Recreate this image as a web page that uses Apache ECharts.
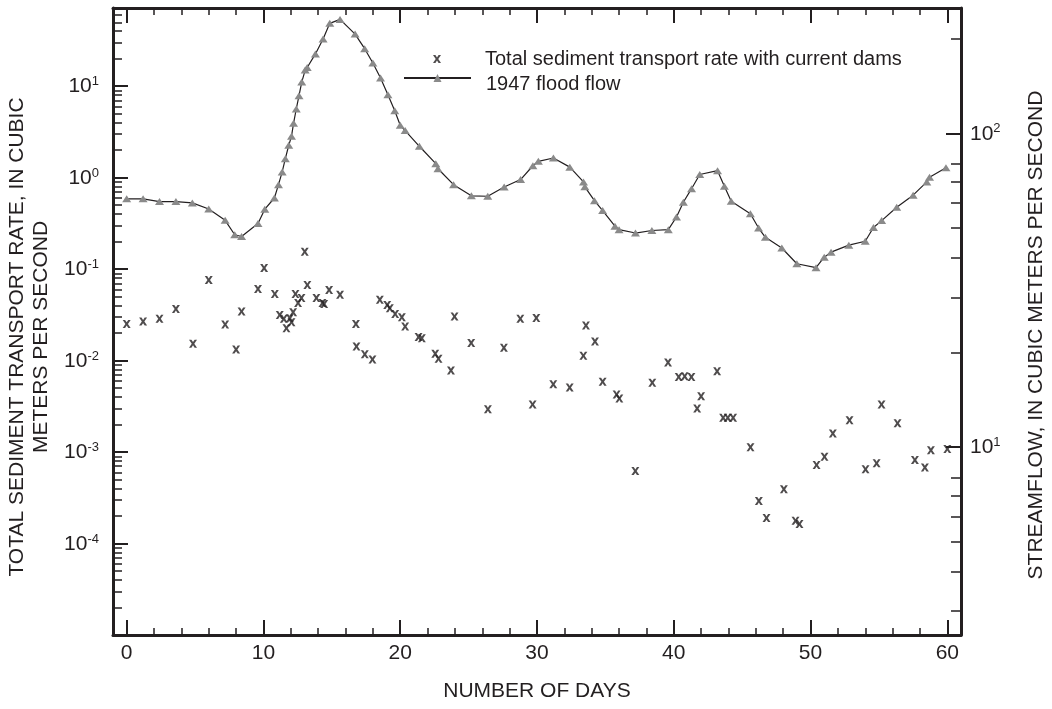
<!DOCTYPE html>
<html>
<head>
<meta charset="utf-8">
<title>Sediment transport rate and 1947 flood flow</title>
<script src="https://cdn.jsdelivr.net/npm/echarts@6/dist/echarts.min.js"></script>
<style>
  html, body { margin: 0; padding: 0; background: #fff; }
  #main { width: 1052px; height: 709px; }
</style>
</head>
<body>
<div id="main"></div>
<script>
// ---- data ----
const sedName = 'Total sediment transport rate with current dams';
const floodName = '1947 flood flow';

const sedDays = [0.0, 1.2, 2.4, 3.6, 4.85, 6.0, 7.2, 8.0, 8.4, 9.6,
  10.05, 10.83, 11.19, 11.49, 11.68, 11.93, 12.05, 12.17, 12.34, 12.53,
  12.78, 13.02, 13.21, 13.87, 14.31, 14.44, 14.8, 15.6, 16.76, 16.8,
  17.41, 17.97, 18.51, 19.05, 19.24, 19.63, 20.12, 20.36, 21.34, 21.58,
  22.56, 22.8, 23.71, 23.97, 25.19, 26.41, 27.58, 28.78, 29.68, 29.95,
  31.19, 32.39, 33.39, 33.58, 34.24, 34.8, 35.82, 36.02, 37.19, 38.43,
  39.58, 40.36, 40.8, 41.29, 41.71, 42.0, 43.17, 43.61, 43.95, 44.34,
  45.61, 46.22, 46.78, 48.05, 48.9, 49.19, 50.44, 51.02, 51.63, 52.85,
  54.02, 54.83, 55.19, 56.36, 57.63, 58.36, 58.8, 60.0];
const sedRates = [0.0252, 0.0267, 0.0286, 0.0367, 0.0153, 0.076, 0.0248, 0.0132, 0.0344, 0.0607,
  0.1028, 0.0535, 0.0316, 0.0286, 0.0226, 0.0291, 0.0263, 0.0338, 0.0535, 0.0427,
  0.0484, 0.155, 0.0671, 0.0484, 0.0427, 0.0417, 0.0592, 0.0526, 0.0252, 0.0143,
  0.0117, 0.0103, 0.0464, 0.0406, 0.0374, 0.0324, 0.0298, 0.0236, 0.0181, 0.0176,
  0.0119, 0.0105, 0.0078, 0.0303, 0.0156, 0.00294, 0.0138, 0.0286, 0.00331, 0.0293,
  0.0055, 0.00507, 0.0113, 0.0242, 0.0162, 0.00589, 0.00425, 0.00385, 0.00062, 0.00574,
  0.00955, 0.00663, 0.00673, 0.00663, 0.00299, 0.00407, 0.00763, 0.00237, 0.00237, 0.00237,
  0.00113, 0.000292, 0.00019, 0.000393, 0.000177, 0.000163, 0.000722, 0.00089, 0.0016, 0.00223,
  0.000648, 0.000754, 0.00331, 0.00206, 0.000818, 0.00068, 0.00105, 0.00108];

const floodDays = [0.0, 1.2, 2.4, 3.6, 4.8, 6.0, 7.2, 7.9, 8.4, 9.6,
  10.1, 10.8, 11.1, 11.37, 11.6, 11.85, 12.05, 12.2, 12.4, 12.6,
  12.8, 13.05, 13.2, 13.8, 14.36, 14.85, 15.6, 16.7, 17.4, 18.0,
  18.56, 19.1, 19.6, 20.0, 20.36, 21.4, 22.6, 22.76, 23.9, 25.2,
  26.4, 27.6, 28.8, 29.7, 30.1, 31.2, 32.4, 33.4, 33.5, 34.2,
  34.8, 35.7, 36.0, 37.2, 38.4, 39.6, 40.2, 40.7, 41.3, 41.9,
  43.2, 43.7, 44.2, 45.6, 46.2, 46.7, 47.9, 49.0, 50.4, 51.0,
  51.5, 52.8, 54.0, 54.6, 55.2, 56.3, 57.5, 58.5, 58.7, 59.9];
const floodFlows = [61.8, 61.8, 60.6, 60.6, 60.0, 57.4, 52.8, 47.5, 46.9, 51.6,
  57.3, 62.2, 68.6, 75.3, 83.0, 91.6, 97.8, 107.6, 119.5, 131.8,
  145.6, 159, 162, 179, 199.6, 224, 230.6, 207, 186, 167.5,
  150, 132.7, 118, 106, 102, 90.9, 80.0, 77.1, 68.6, 63.2,
  63.0, 67.4, 71.2, 78.8, 81.4, 83.4, 78.0, 70.0, 67.5, 61.0,
  56.7, 50.6, 49.3, 48.1, 49.0, 49.3, 54.1, 60.3, 66.6, 73.9,
  76.0, 67.8, 60.7, 55.4, 49.9, 46.6, 43.1, 38.4, 37.3, 40.3,
  41.8, 44.0, 45.3, 50.1, 52.7, 58.1, 63.5, 70.0, 72.4, 77.6];

// tick labels / tick positions
const dayLabels = [0, 10, 20, 30, 40, 50, 60];
const sedDecades = [1e-4, 1e-3, 1e-2, 1e-1, 1, 10];
const sedMinorTicks = [1e-5, 1e-4, 1e-3, 1e-2, 1e-1, 1, 10]
  .flatMap(d => [2, 3, 4, 5, 6, 7, 8, 9].map(m => +(m * d).toPrecision(3)));
const flowDecades = [10, 100];
const flowMinorTicks = [3, 4, 5, 6, 7, 8, 20, 30, 40, 50, 60, 70, 80, 200];

// ---- style ----
const ink = '#231f20';
const font = '"Liberation Sans", Arial, Helvetica, sans-serif';
const xMark = 'path://M0,0L3,0L5,3L7,0L10,0L6.6,5L10,10L7,10L5,7L3,10L0,10L3.4,5Z';
const sedMin = 1e-5, sedMax = 71.6;
const flowMin = 2.52, flowMax = 250.7;

function pow10(v) {
  const e = Math.round(Math.log10(v));
  return '{b|10}{s|' + e + '}';
}
const powRich = {
  b: { fontSize: 21, lineHeight: 22, color: ink, fontFamily: font, verticalAlign: 'bottom' },
  s: { fontSize: 13, lineHeight: 14, color: ink, fontFamily: font, verticalAlign: 'top' }
};

const majorTick = { color: ink, width: 2 };
const minorTick = { color: ink, width: 1.5 };
const frame = { color: ink, width: 3 };
const plotBox = { left: 113, right: 91, top: 8, bottom: 74, outerBoundsMode: 'none', containLabel: false };

function dayAxis(pos, withLabels) {
  return {
    type: 'value', position: pos, min: -1, max: 61, splitNumber: 6,
    name: withLabels ? 'NUMBER OF DAYS' : '',
    nameLocation: 'middle', nameGap: 46,
    nameTextStyle: { fontSize: 21, color: ink, fontFamily: font },
    axisLine: { show: true, onZero: false, lineStyle: frame },
    axisTick: { show: true, inside: true, length: 15, lineStyle: majorTick },
    minorTick: { show: true, splitNumber: 5, length: 7, lineStyle: minorTick },
    axisLabel: { show: withLabels, customValues: dayLabels, margin: 8, fontSize: 21, color: ink, fontFamily: font },
    splitLine: { show: false }
  };
}

// second (identical) grid carries the short log ticks
function minorLogAxis(pos, min, max, ticks, len) {
  return {
    gridIndex: 1, type: 'log', logBase: 10, position: pos, min: min, max: max,
    axisLine: { show: false, onZero: false },
    axisTick: { show: true, inside: true, length: len, customValues: ticks, lineStyle: minorTick },
    axisLabel: { show: false },
    splitLine: { show: false }
  };
}

const chart = echarts.init(document.getElementById('main'), null, { renderer: 'canvas' });

chart.setOption({
  animation: false,
  backgroundColor: '#fff',
  textStyle: { fontFamily: font, color: ink },
  grid: [plotBox, Object.assign({}, plotBox)],
  legend: [
    {
      data: [sedName], left: 433, top: 49, padding: 0,
      itemWidth: 8, itemHeight: 8, selectedMode: false,
      textStyle: { fontSize: 20, lineHeight: 20, color: ink, fontFamily: font, padding: [0, 0, 0, 39] }
    },
    {
      data: [floodName], left: 403, top: 74, padding: 0,
      itemWidth: 67, itemHeight: 10, selectedMode: false,
      formatter: n => '{t|' + n + '}',
      textStyle: {
        fontSize: 20, color: ink, fontFamily: font, padding: [0, 0, 0, 10],
        rich: { t: { fontSize: 20, lineHeight: 32, color: ink, fontFamily: font, verticalAlign: 'bottom' } }
      }
    }
  ],
  xAxis: [
    dayAxis('bottom', true),
    dayAxis('top', false),
    { gridIndex: 1, type: 'value', min: -1, max: 61, show: false }
  ],
  yAxis: [
    {
      type: 'log', logBase: 10, position: 'left', min: sedMin, max: sedMax,
      name: 'TOTAL SEDIMENT TRANSPORT RATE, IN CUBIC\nMETERS PER SECOND',
      nameLocation: 'middle', nameRotate: 90, nameGap: 52,
      nameTextStyle: { fontSize: 21, lineHeight: 24, color: ink, fontFamily: font, padding: [0, 31, 0, 0] },
      axisLine: { show: true, onZero: false, lineStyle: frame },
      axisTick: { show: true, inside: true, length: 15, customValues: sedDecades, lineStyle: majorTick },
      axisLabel: { customValues: sedDecades, formatter: pow10, rich: powRich, margin: 14 },
      splitLine: { show: false }
    },
    {
      type: 'log', logBase: 10, position: 'right', min: flowMin, max: flowMax,
      name: 'STREAMFLOW, IN CUBIC METERS PER SECOND',
      nameLocation: 'middle', nameRotate: 90, nameGap: 63,
      nameTextStyle: { fontSize: 21, lineHeight: 24, color: ink, fontFamily: font, padding: [0, 27, 0, 0] },
      axisLine: { show: true, onZero: false, lineStyle: frame },
      axisTick: { show: true, inside: true, length: 15, customValues: flowDecades, lineStyle: majorTick },
      axisLabel: { customValues: flowDecades, formatter: pow10, rich: powRich, margin: 9 },
      splitLine: { show: false }
    },
    minorLogAxis('left', sedMin, sedMax, sedMinorTicks, 9),
    minorLogAxis('right', flowMin, flowMax, flowMinorTicks, 10)
  ],
  series: [
    {
      name: floodName, type: 'line', xAxisIndex: 0, yAxisIndex: 1,
      data: floodDays.map((d, i) => [d, floodFlows[i]]),
      symbol: 'triangle', symbolSize: [9, 7], showAllSymbol: true,
      itemStyle: { color: '#8a8a8a', borderWidth: 0 },
      lineStyle: { color: ink, width: 1.2 }
    },
    {
      name: sedName, type: 'scatter', xAxisIndex: 0, yAxisIndex: 0,
      data: sedDays.map((d, i) => [d, sedRates[i]]),
      symbol: xMark, symbolSize: 8,
      itemStyle: { color: ink }
    }
  ]
});
</script>
</body>
</html>
